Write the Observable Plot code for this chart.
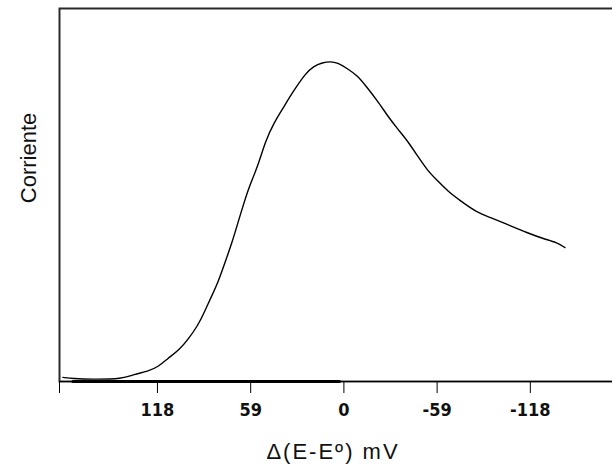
<!DOCTYPE html>
<html>
<head>
<meta charset="utf-8">
<script src="https://cdn.jsdelivr.net/npm/d3@7"></script>
<script src="https://cdn.jsdelivr.net/npm/@observablehq/plot@0.6"></script>
<style>
  html, body { margin: 0; padding: 0; background: #fff; overflow: hidden; }
  #chart { width: 612px; height: 468px; }
  .ticks text { font-family: "Liberation Sans Narrow", "DejaVu Sans Condensed", "Liberation Sans", sans-serif; font-weight: bold; font-stretch: condensed; }
  .xlab text { letter-spacing: 2px; }
</style>
</head>
<body>
<div id="chart"></div>
<script>
// Potential difference Δ(E-Eº) in mV (axis reversed)
const potential = [177.8, 171.5, 160, 139.9, 133.0, 124.1, 117.2, 111.5, 104.5, 98.2, 92.5, 88.7, 83.0, 79.9,
  74.8, 70.4, 67.2, 62.8, 59.7, 54.6, 49.5, 44.5, 38.2, 32.5, 24.3, 19.3, 13.6, 8.5, 4.1, -2.2, -8.5, -13.6,
  -21.2, -27.5, -33.8, -40.1, -46.4, -52.8, -59.1, -66.0, -73.6, -84.3, -92.5, -105.1, -115.9, -126.0, -134.8, -139.9];
// Current (arbitrary units, 0 = baseline, 100 = top of frame)
const current = [1.1, 0.8, 0.6, 0.7, 1.9, 2.7, 4.0, 6.2, 8.3, 11.5, 15.0, 18.2, 23.6, 26.3,
  32.4, 37.8, 42.4, 48.5, 52.5, 57.6, 64.6, 69.2, 73.5, 77.5, 82.6, 84.5, 85.5, 85.8, 85.5, 83.9, 82.0, 79.4,
  75.3, 71.3, 67.8, 64.6, 60.6, 56.6, 53.9, 50.9, 48.5, 45.3, 44.0, 41.8, 39.9, 38.3, 37.3, 35.9];

const xDomain = [180, -170];
const yDomain = [0, 100];
const tickValues = [180, 118, 59, 0, -59, -118];
const tickLabels = ["", "118", "59", "0", "-59", "-118"];
const baselineSpan = [171.5, 2.8];
const xLabel = "Δ(E-Eº) mV";
const yLabel = "Corriente";

const data = potential.map((p, i) => ({p, c: current[i]}));
const baseline = baselineSpan.map(p => ({p, c: 0}));

const chart = Plot.plot({
  width: 612,
  height: 468,
  marginLeft: 59,
  marginRight: 0,
  marginTop: 8,
  marginBottom: 87,
  style: {background: "#fff", overflow: "visible", fontFamily: "'Liberation Sans', Arial, sans-serif", color: "#111"},
  x: {domain: xDomain, axis: null},
  y: {domain: yDomain, axis: null},
  marks: [
    Plot.frame({stroke: "#2a2a2a", strokeWidth: 2, insetRight: -4}),
    Plot.ruleY([0], {stroke: "#000", strokeWidth: 1.2}),
    Plot.line(baseline, {x: "p", y: "c", stroke: "#000", strokeWidth: 3}),
    Plot.axisX({
      ticks: tickValues,
      tickSize: 12,
      tickPadding: 10,
      tickFormat: (d) => tickLabels[tickValues.indexOf(d)],
      fontSize: 18,
      label: null,
      stroke: "#000",
      className: "ticks"
    }),
    Plot.line(data, {x: "p", y: "c", stroke: "#000", strokeWidth: 1.4, curve: "basis"}),
    Plot.text([xLabel], {frameAnchor: "bottom", lineAnchor: "middle", textAnchor: "middle", dy: 70, dx: -3, fontSize: 22, fill: "#111", className: "xlab"}),
    Plot.text([yLabel], {frameAnchor: "left", lineAnchor: "middle", textAnchor: "middle", rotate: -90, dx: -31, dy: -37, fontSize: 22, fill: "#111"})
  ]
});
document.getElementById("chart").appendChild(chart);
</script>
</body>
</html>
